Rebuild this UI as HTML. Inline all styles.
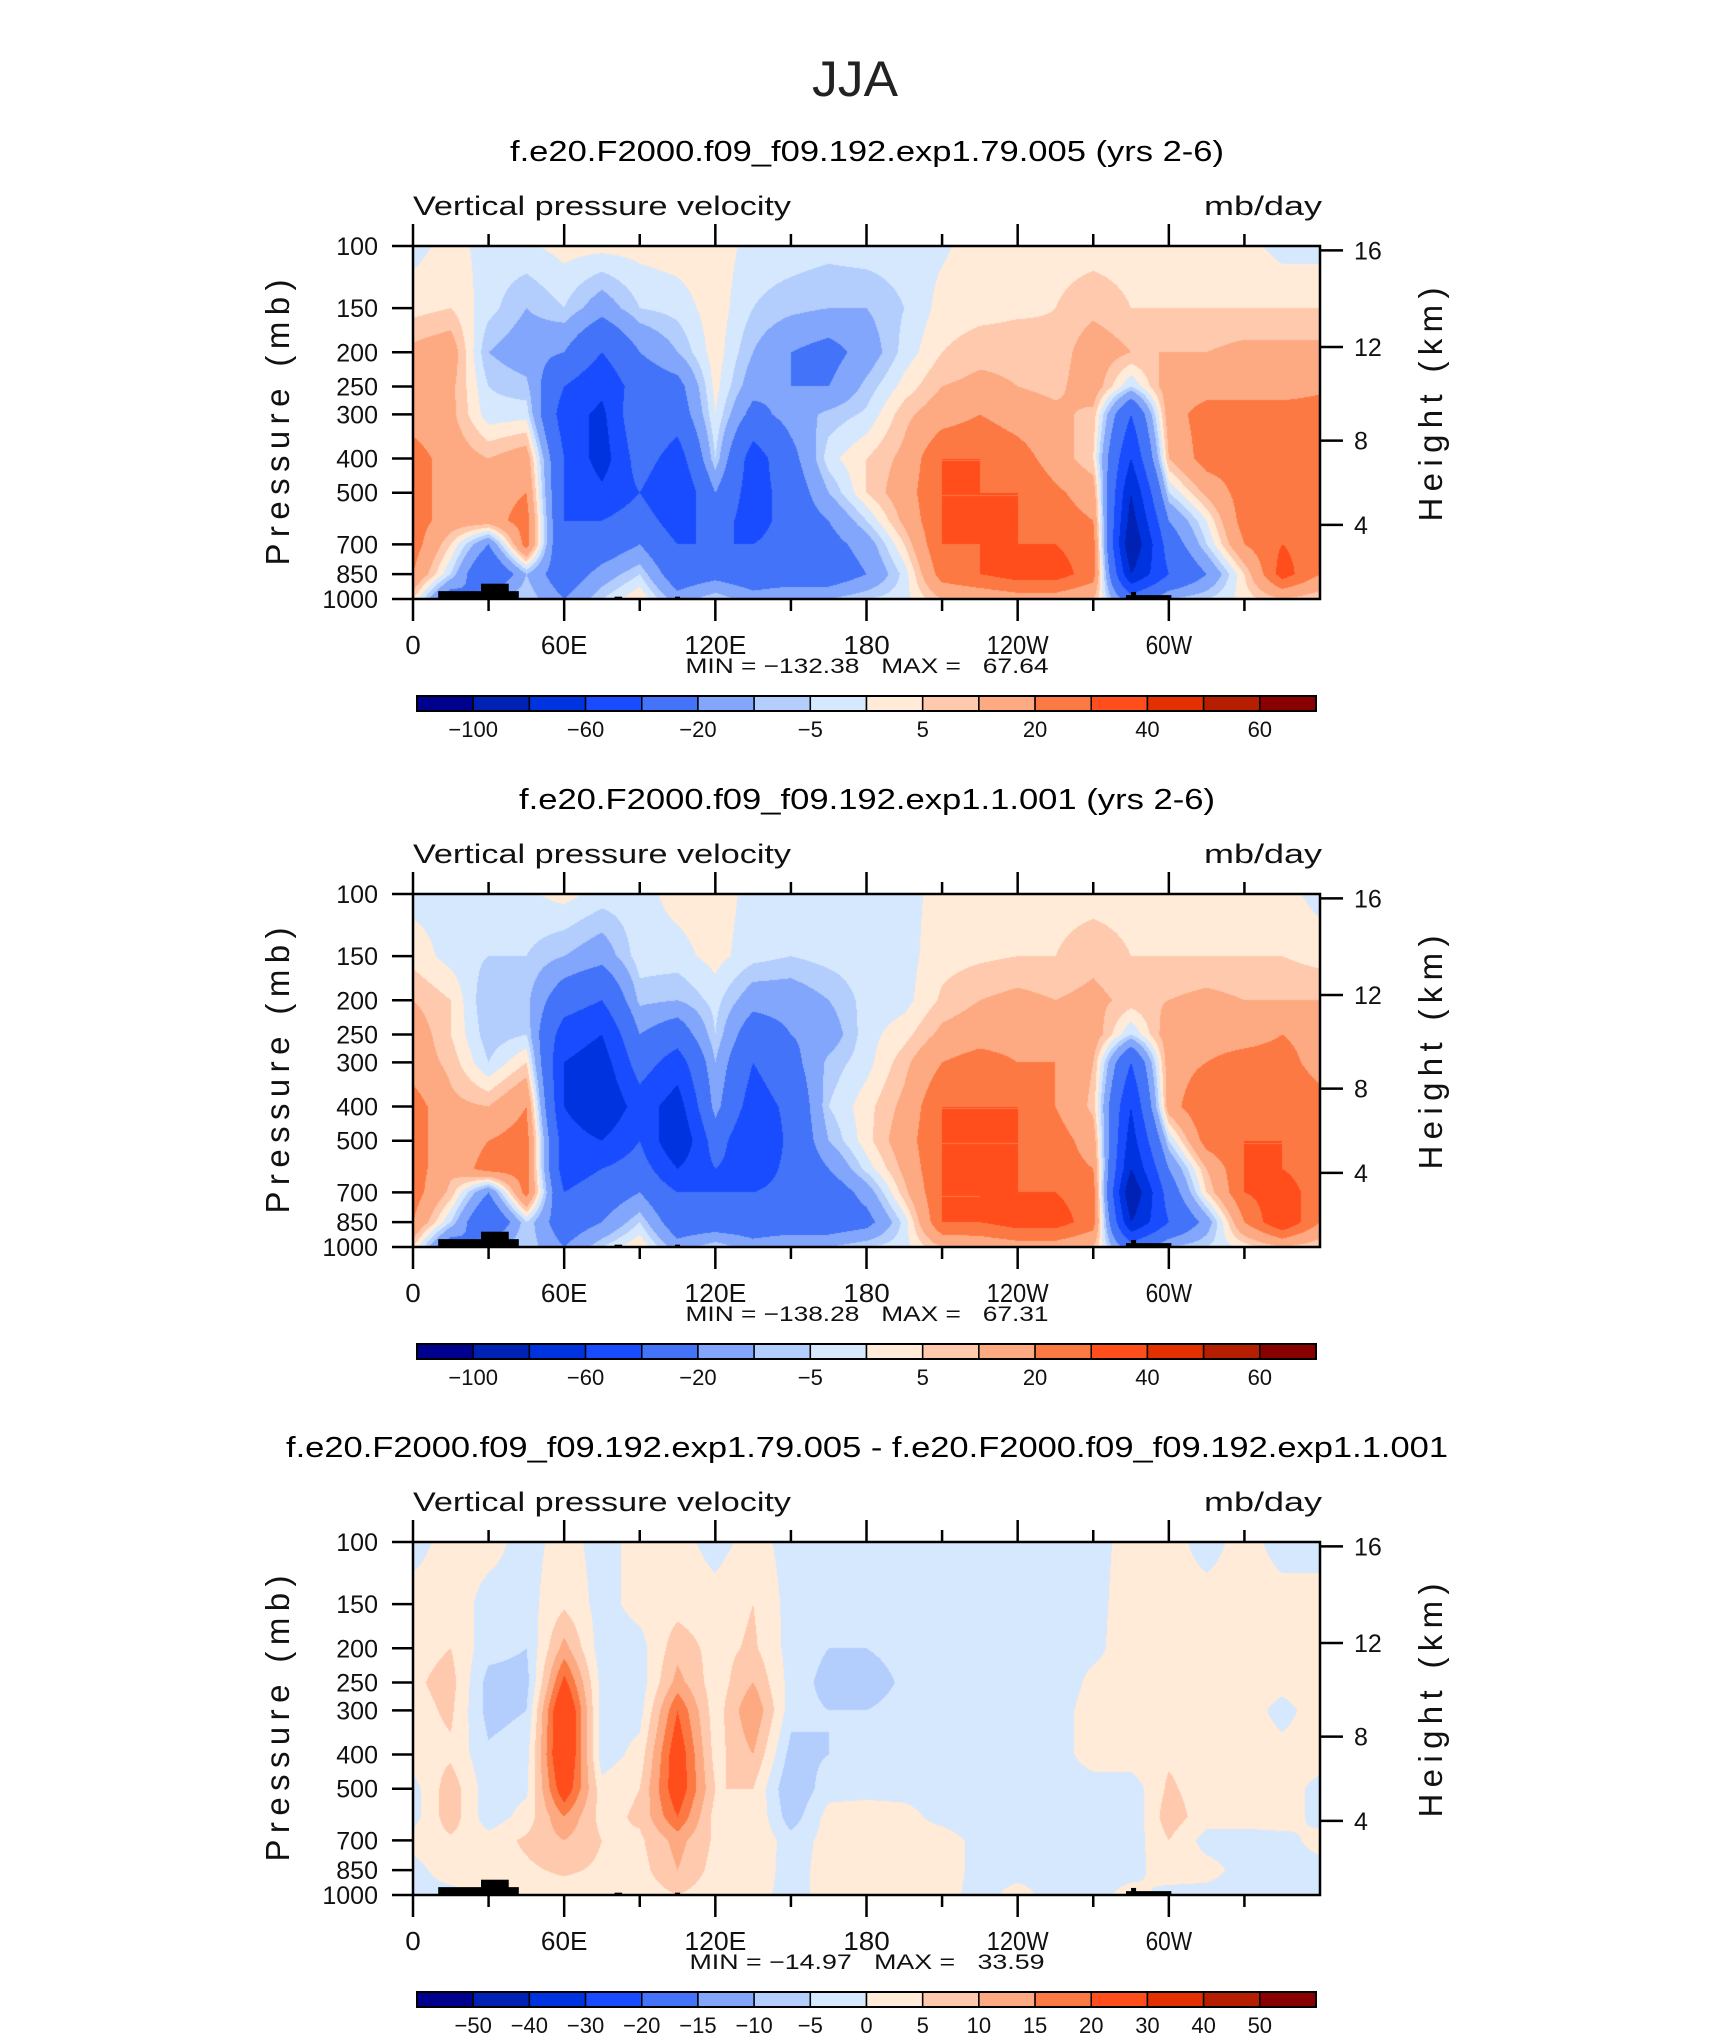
<!DOCTYPE html>
<html><head><meta charset="utf-8">
<style>
html,body{margin:0;padding:0;background:#fff;}
#page{position:relative;width:1710px;height:2038px;overflow:hidden;background:#fff;}
canvas{position:absolute;}
svg{position:absolute;left:0;top:0;}
text{white-space:pre;}
</style></head>
<body>
<div id="page">
<svg id="ov" width="1710" height="2038"></svg>
</div>
<script>
// ---------- data ----------
const lonGrid = [0,15,30,45,60,75,90,105,120,135,150,165,180,195,210,225,240,255,270,285,300,315,330,345,360];
const presLevels = [100,150,200,250,300,400,500,600,700,850,1000];

const field1 = [
[-2,3,12,15,15,25,25,25,25,20,5],
[2,5,15,12,12,15,15,15,5,-5,-30],
[-2,-3,-10,-5,-3,10,15,15,-20,-40,-10],
[-1,-10,-15,-8,-2,15,20,25,25,-10,-5],
[2,-5,-20,-40,-50,-40,-40,-40,-40,-30,-20],
[2,-15,-40,-55,-65,-70,-55,-40,-30,-15,-5],
[2,-5,-20,-30,-20,-30,-40,-30,-20,-5,5],
[3,-3,-10,-25,-30,-50,-60,-50,-40,-30,-15],
[3,3,3,2,0,-5,-20,-30,-40,-25,-5],
[-2,-5,-10,-15,-25,-50,-50,-50,-40,-30,-15],
[-2,-8,-20,-20,-15,-25,-30,-30,-30,-30,-10],
[-3,-10,-25,-20,-8,-2,-10,-20,-25,-30,-10],
[-2,-10,-15,-8,-4,5,5,-5,-15,-20,-5],
[-2,-5,-3,2,8,12,15,12,5,-3,-2],
[-1,2,5,10,15,30,30,30,30,25,10],
[3,3,8,12,20,30,30,30,30,30,12],
[3,4,8,10,15,25,30,30,30,35,15],
[3,5,6,8,12,15,22,25,30,35,15],
[3,8,15,15,8,5,15,20,25,25,10],
[3,5,10,-5,-40,-60,-80,-90,-100,-80,-30],
[3,5,10,15,15,10,-5,-20,-30,-40,-10],
[3,5,10,15,25,25,12,0,-5,-20,-5],
[2,5,12,15,25,25,25,25,20,5,2],
[-2,5,12,15,25,25,25,25,30,35,10],
[-2,5,12,18,25,25,25,25,25,20,5]
];
const field2 = [
[-2,3,10,15,15,25,25,25,25,20,5],
[-2,-2,5,5,8,12,12,12,8,-5,-30],
[-2,-5,-10,-8,-5,10,20,25,-20,-40,-10],
[-1,-5,-8,-5,5,20,25,25,25,-5,-5],
[2,-10,-30,-50,-60,-60,-50,-50,-40,-30,-20],
[-2,-15,-40,-60,-70,-80,-60,-40,-30,-20,-5],
[-2,-2,-8,-20,-30,-50,-40,-30,-20,-5,5],
[2,-2,-10,-30,-50,-70,-80,-60,-40,-30,-15],
[3,2,-3,-5,-10,-15,-30,-40,-40,-30,-5],
[-2,-3,-15,-30,-40,-50,-60,-50,-40,-30,-15],
[-2,-5,-15,-20,-25,-35,-35,-35,-35,-30,-10],
[-2,-3,-10,-15,-8,-5,-10,-20,-30,-30,-10],
[-2,-2,-3,-2,-2,3,3,-3,-15,-25,-5],
[-2,-2,-2,3,8,12,15,12,8,-3,-2],
[2,3,6,12,20,30,30,30,30,30,10],
[3,4,10,15,25,30,30,30,30,30,12],
[3,5,12,15,20,30,30,30,30,35,15],
[3,5,10,15,20,20,25,25,30,35,15],
[3,8,12,15,10,8,15,20,25,25,10],
[3,5,8,-5,-40,-60,-70,-80,-100,-80,-30],
[3,5,10,15,15,15,-5,-20,-30,-40,-10],
[3,5,12,15,20,30,25,10,5,-15,-5],
[2,5,10,15,25,25,30,30,30,20,2],
[2,5,10,20,25,30,30,30,35,40,10],
[-2,3,10,15,15,25,25,25,25,20,5]
];
const field3 = [
[-2,2,3,4,3,3,-2,-2,2,-2,-2],
[2,3,5,7,6,4,8,8,4,3,-2],
[2,-2,-3,-7,-7,-4,-3,-3,2,3,1],
[-2,-2,-5,-7,-5,-2,-1,2,6,4,2],
[2,4,12,22,30,30,25,15,10,6,2],
[-2,-2,-3,-2,-3,-3,2,3,5,4,2],
[2,2,-2,-3,-2,2,5,6,4,3,2],
[2,3,8,12,20,25,25,20,12,10,5],
[-2,2,3,2,2,3,5,3,4,3,2],
[2,5,6,10,15,10,5,5,5,3,2],
[-2,-2,-2,-2,-3,-7,-10,-8,-3,-2,-2],
[-2,-2,-5,-7,-5,-5,-2,2,2,2,2],
[-2,-2,-5,-8,-5,-3,-2,3,3,3,2],
[-2,-2,-3,-4,-3,-2,-2,2,2,2,2],
[-2,-2,-2,-3,-2,-3,-2,-2,3,3,2],
[-2,-2,-2,-2,-2,-2,-4,-4,-2,-2,-2],
[-2,-2,-2,-2,-3,-3,-2,-2,-2,-2,2],
[-2,-2,-2,-5,-4,-2,-2,-2,-2,-2,-2],
[-2,-2,-2,2,4,2,-2,-2,-2,-2,-2],
[2,3,4,3,4,3,-3,-4,-3,-2,2],
[2,2,3,4,4,4,6,8,5,3,-2],
[-2,2,3,3,3,3,2,2,-2,2,-2],
[2,2,3,3,3,3,2,2,-2,-2,-2],
[-2,2,2,2,-2,2,3,3,-2,-2,-2],
[-2,2,3,4,3,3,-2,-2,2,-2,-2]
];
const levelsAbs = [-100,-80,-60,-40,-20,-10,-5,0,5,10,20,30,40,50,60];
const levelsDiff = [-50,-40,-30,-20,-15,-10,-5,0,5,10,15,20,30,40,50];
const labelsAbs = ["-100","-60","-20","-5","5","20","40","60"];
const labelsAbsIdx = [0,2,4,6,8,10,12,14];
const labelsDiff = ["-50","-40","-30","-20","-15","-10","-5","0","5","10","15","20","30","40","50"];
const palette = ["#00008f","#0022b4","#0033e0","#1a4cff","#4273f8","#82a6fb","#b3cdfd","#d5e8fe","#ffebd8","#fec9ad","#fdaa82","#fd7944","#ff4d1c","#e23000","#b51e00","#880000"];
const titles = ["f.e20.F2000.f09_f09.192.exp1.79.005 (yrs 2-6)","f.e20.F2000.f09_f09.192.exp1.1.001 (yrs 2-6)","f.e20.F2000.f09_f09.192.exp1.79.005 - f.e20.F2000.f09_f09.192.exp1.1.001"];
const minMax = ["MIN = \u2212132.38   MAX =   67.64","MIN = \u2212138.28   MAX =   67.31","MIN = \u221214.97   MAX =   33.59"];
const pTicks = [100,150,200,250,300,400,500,700,850,1000];
const hTicks = [4,8,12,16];
const lonLabels = ["0","60E","120E","180","120W","60W"];
const lonLabelVals = [0,60,120,180,240,300];
// terrain: [lonStart, lonEnd, topPressure]
const terrain = [[10,42,950],[27,38,905],[283,301,975],[285,287,955],[80,83,985],[104,106,985]];

// ---------- layout ----------
const PX0=413, PW=907, PH=353, PTOPS=[246,894,1542];
const NS="http://www.w3.org/2000/svg";
const ov=document.getElementById('ov');
function xOf(lon){return PX0+lon/360*PW;}
function yOf(top,p){return top+(Math.log10(p)-2)*PH;}
function hToP(z){z*=1000; if(z<=11000) return 1013.25*Math.pow(1-2.25577e-5*z,5.25588); return 226.32*Math.exp(-(z-11000)/6341.6);}
function mk(tag,attrs,parent){const e=document.createElementNS(NS,tag);for(const k in attrs)e.setAttribute(k,attrs[k]);(parent||ov).appendChild(e);return e;}
function txt(s,attrs,parent){const e=mk('text',attrs,parent);e.textContent=s;return e;}
const FONT='"Liberation Sans", "DejaVu Sans", sans-serif';

const t0=txt("JJA",{x:855,y:96,'text-anchor':'middle','font-family':FONT,'font-size':50,fill:'#222',textLength:86,lengthAdjust:'spacingAndGlyphs'});



function valueAt(field,lon,p){
  let fi=lon/15; let i=Math.min(Math.floor(fi),lonGrid.length-2); let tx=fi-i;
  const lp=Math.log10(p); let k=0;
  while(k<presLevels.length-2 && Math.log10(presLevels[k+1])<lp) k++;
  const l0=Math.log10(presLevels[k]), l1=Math.log10(presLevels[k+1]);
  let ty=(lp-l0)/(l1-l0); ty=Math.max(0,Math.min(1,ty));
  const a=field[i][k],b=field[i+1][k],c=field[i][k+1],d=field[i+1][k+1];
  return (a*(1-tx)+b*tx)*(1-ty)+(c*(1-tx)+d*tx)*ty;
}
function hexRgb(h){return [parseInt(h.slice(1,3),16),parseInt(h.slice(3,5),16),parseInt(h.slice(5,7),16)];}
const palRgb=palette.map(hexRgb);

function drawPanel(idx,field,levels,top){
  const g=mk('g',{});
  
  
  const cv=document.createElement('canvas');
  cv.width=PW;cv.height=PH;cv.style.left=PX0+'px';cv.style.top=top+'px';
  
  
  document.getElementById('page').insertBefore(cv,ov);
  const ctx=cv.getContext('2d');const im=ctx.createImageData(PW,PH);
  for(let y=0;y<PH;y++){
    const p=Math.pow(10,2+(y+0.5)/PH);
    for(let x=0;x<PW;x++){
      const lon=(x+0.5)/PW*360;
      const v=valueAt(field,lon,p);
      let c=0;while(c<levels.length && v>=levels[c])c++;
      const col=palRgb[c];const o=(y*PW+x)*4;
      im.data[o]=col[0];im.data[o+1]=col[1];im.data[o+2]=col[2];im.data[o+3]=255;
    }
  }
  ctx.putImageData(im,0,0);
  terrain.forEach(t=>{
    const r=mk('rect',{x:xOf(t[0]),y:yOf(top,t[2]),width:xOf(t[1])-xOf(t[0]),height:yOf(top,1000)-yOf(top,t[2]),fill:'#000'},g);
    
    
  });
  const tt=txt(titles[idx],{x:867,y:top-85,'text-anchor':'middle','font-family':FONT,'font-size':29,fill:'#000',textLength:idx==2?1162:(idx==0?714:696),lengthAdjust:'spacingAndGlyphs'},g);
  
  
  const lt=txt("Vertical pressure velocity",{x:PX0,y:top-31,'font-family':FONT,'font-size':27,fill:'#111',textLength:378,lengthAdjust:'spacingAndGlyphs'},g);
  
  
  const ut=txt("mb/day",{x:1322,y:top-31,'text-anchor':'end','font-family':FONT,'font-size':27,fill:'#111',textLength:118,lengthAdjust:'spacingAndGlyphs'},g);
  
  
  const fr=mk('rect',{x:PX0,y:top,width:PW,height:PH,fill:'none',stroke:'#000','stroke-width':2.5},g);
  
  
  for(let lon=0;lon<360;lon+=30){
    const major=lon%60===0, L=major?22:12, x=xOf(lon);
    const a=mk('line',{x1:x,x2:x,y1:top,y2:top-L,stroke:'#000','stroke-width':2.5},g);
    
    
    const b=mk('line',{x1:x,x2:x,y1:top+PH,y2:top+PH+L,stroke:'#000','stroke-width':2.5},g);
    
    
  }
  lonLabels.forEach((s,i)=>{
    const e=txt(s,{x:xOf(lonLabelVals[i]),y:top+PH+55,'text-anchor':'middle','font-family':FONT,'font-size':26,fill:'#111',textLength:s.length*15.5,lengthAdjust:'spacingAndGlyphs'},g);
    
    
  });
  pTicks.forEach(p=>{
    const y=yOf(top,p);
    const l=mk('line',{x1:PX0-21,x2:PX0,y1:y,y2:y,stroke:'#000','stroke-width':2.5},g);
    
    
    const e=txt(String(p),{x:378,y:y+9,'text-anchor':'end','font-family':FONT,'font-size':25,fill:'#111'},g);
    
    
  });
  hTicks.forEach(h=>{
    const y=yOf(top,hToP(h));
    const l=mk('line',{x1:PX0+PW,x2:PX0+PW+23,y1:y,y2:y,stroke:'#000','stroke-width':2.5},g);
    
    
    const e=txt(String(h),{x:1354,y:y+9,'font-family':FONT,'font-size':25,fill:'#111'},g);
    
    
  });
  const cy=top+PH/2;
  const ya=txt("Pressure (mb)",{x:0,y:0,'text-anchor':'middle','font-family':FONT,'font-size':33,fill:'#111',transform:`translate(289,${cy}) rotate(-90)`,textLength:286,lengthAdjust:'spacing'},g);
  
  
  const yb=txt("Height (km)",{x:0,y:0,'text-anchor':'middle','font-family':FONT,'font-size':33,fill:'#111',transform:`translate(1442,${top+PH/2-18}) rotate(-90)`,textLength:234,lengthAdjust:'spacing'},g);
  
  
  const mm=txt(minMax[idx],{x:867,y:top+PH+74,'text-anchor':'middle','font-family':FONT,'font-size':21,fill:'#111',textLength:idx==2?355:363,lengthAdjust:'spacingAndGlyphs'},g);
  
  
  const cbx=417,cbw=899,cby=top+450,cbh=15,bw=cbw/16;
  palette.forEach((c,i)=>{
    const r=mk('rect',{x:cbx+i*bw,y:cby,width:bw,height:cbh,fill:c,stroke:'#000','stroke-width':1.5},g);
    
    
  });
  const cbf=mk('rect',{x:cbx,y:cby,width:cbw,height:cbh,fill:'none',stroke:'#000','stroke-width':2},g);
  
  
  const labs= idx==2?labelsDiff:labelsAbs;
  labs.forEach((s,i)=>{
    const bi= idx==2? i : labelsAbsIdx[i];
    const e=txt(s.replace('-','\u2212'),{x:cbx+(bi+1)*bw,y:cby+41,'text-anchor':'middle','font-family':FONT,'font-size':22,fill:'#111'},g);
    
    
  });
}
drawPanel(0,field1,levelsAbs,PTOPS[0]);
drawPanel(1,field2,levelsAbs,PTOPS[1]);
drawPanel(2,field3,levelsDiff,PTOPS[2]);
</script>
</body></html>
